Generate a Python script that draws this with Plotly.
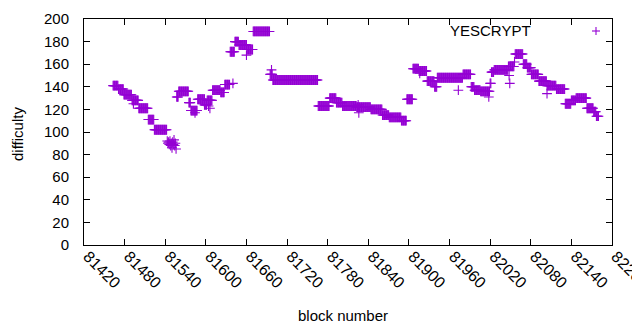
import plotly.graph_objects as go

# Runs of constant difficulty: first block, last block, difficulty
run_start = [81463, 81471, 81479, 81491, 81501, 81515, 81524, 81557, 81560, 81575,
             81578, 81588, 81599, 81602, 81610, 81622, 81628, 81636, 81643, 81649,
             81661, 81670, 81695, 81699, 81766, 81783, 81793, 81802, 81823, 81844,
             81861, 81871, 81889, 81897, 81906, 81915, 81927, 81938, 81942, 81980,
             81992, 81997, 82006, 82020, 82022, 82026, 82047, 82056, 82057, 82069,
             82075, 82081, 82092, 82104, 82118, 82131, 82140, 82147, 82163, 82173,
             82177]
run_end = [81470, 81478, 81490, 81500, 81514, 81523, 81542, 81559, 81574, 81577,
           81587, 81598, 81601, 81609, 81621, 81627, 81635, 81642, 81648, 81660,
           81669, 81694, 81698, 81765, 81782, 81792, 81801, 81822, 81843, 81860,
           81870, 81888, 81896, 81905, 81914, 81926, 81937, 81941, 81979, 81991,
           81996, 82005, 82019, 82021, 82025, 82046, 82055, 82056, 82068, 82074,
           82080, 82091, 82103, 82117, 82130, 82139, 82146, 82162, 82172, 82176,
           82180]
run_value = [141, 138, 133, 128, 121, 111, 102, 131, 136, 126,
             119, 129, 124, 128, 137, 135, 142, 171, 180, 177,
             173, 189, 151, 146, 123, 130, 126, 123, 122, 120,
             115, 113, 110, 129, 156, 154, 145, 140, 148, 151,
             140, 137, 136, 143, 153, 155, 158, 162, 169, 160,
             157, 151, 145, 141, 138, 125, 128, 130, 121, 118,
             114]

# Individual scattered blocks
extra_block = [81543, 81544, 81545, 81546, 81547, 81548, 81549, 81550, 81551, 81552,
               81553, 81554, 81555, 81556, 81493, 81584, 81598, 81604, 81606, 81660,
               81697, 81825, 81826, 81916, 81973, 82018, 82048, 82049, 82104, 81640]
extra_value = [92, 90, 91, 89, 92, 88, 90, 86, 91, 89,
               93, 88, 90, 85, 125, 117, 124, 123, 121, 168,
               155, 124, 117, 152, 137, 131, 150, 143, 134, 143]

x_ticks = [81420, 81480, 81540, 81600, 81660, 81720, 81780, 81840, 81900,
           81960, 82020, 82080, 82140, 82200]
y_ticks = [0, 20, 40, 60, 80, 100, 120, 140, 160, 180, 200]

xs, ys = [], []
for s, e, v in zip(run_start, run_end, run_value):
    for b in range(s, e + 1):
        xs.append(b)
        ys.append(v)
xs += extra_block
ys += extra_value

color = "#9400D3"
font = dict(family="Liberation Sans, Arial, sans-serif", size=15, color="#000000")

# page offset of the figure (body margin) and plot area in page pixels
OFF = 8
L, R, T, B = 84, 612, 19, 245
W, H = 640 - OFF, 330 - OFF


def pxx(px):
    return (px - L) / (R - L)


def pxy(py):
    return (B - py) / (B - T)


fig = go.Figure()
fig.add_trace(go.Scatter(
    x=xs, y=ys, mode="markers", name="YESCRYPT", showlegend=False,
    marker=dict(symbol="cross-thin", size=7, color=color,
                line=dict(width=1.1, color=color)),
))

fig.update_layout(
    width=W, height=H,
    margin=dict(l=L - OFF, r=640 - R, t=T - OFF, b=330 - B, autoexpand=False),
    paper_bgcolor="white", plot_bgcolor="white",
    font=font,
    xaxis=dict(range=[81420, 82200], tickvals=x_ticks, ticktext=[str(t) for t in x_ticks],
               tickangle=45, ticks="inside", ticklen=6, tickcolor="black",
               tickfont=dict(family=font["family"], size=16, color="#000000"),
               showline=True, linecolor="black", linewidth=1, mirror="ticks",
               showgrid=False, zeroline=False, automargin=False,
               ticklabeloverflow="allow", ticklabelstandoff=-5, ticklabelshift=4),
    yaxis=dict(range=[0, 200], tickvals=y_ticks, ticks="inside", ticklen=6,
               tickcolor="black", showline=True, linecolor="black", linewidth=1,
               mirror="ticks", showgrid=False, zeroline=False, automargin=False,
               ticklabelstandoff=11),
    annotations=[
        dict(x=pxx(533), y=pxy(31), xref="paper", yref="paper", text="YESCRYPT",
             showarrow=False, xanchor="right", yanchor="middle", font=font),
        dict(x=pxx(343), y=pxy(315), xref="paper", yref="paper", text="block number",
             showarrow=False, xanchor="center", yanchor="middle", font=font),
        dict(x=pxx(17), y=pxy(134), xref="paper", yref="paper", text="difficulty",
             showarrow=False, xanchor="center", yanchor="middle", textangle=-90, font=font),
    ],
)

# legend sample drawn as layout shapes
cx, cy = 596, 31
fig.add_shape(type="line", xref="paper", yref="paper",
              x0=pxx(cx - 4), x1=pxx(cx + 4), y0=pxy(cy), y1=pxy(cy),
              line=dict(color=color, width=1.1))
fig.add_shape(type="line", xref="paper", yref="paper",
              x0=pxx(cx), x1=pxx(cx), y0=pxy(cy - 4), y1=pxy(cy + 4),
              line=dict(color=color, width=1.1))

fig.write_html("out.html")
